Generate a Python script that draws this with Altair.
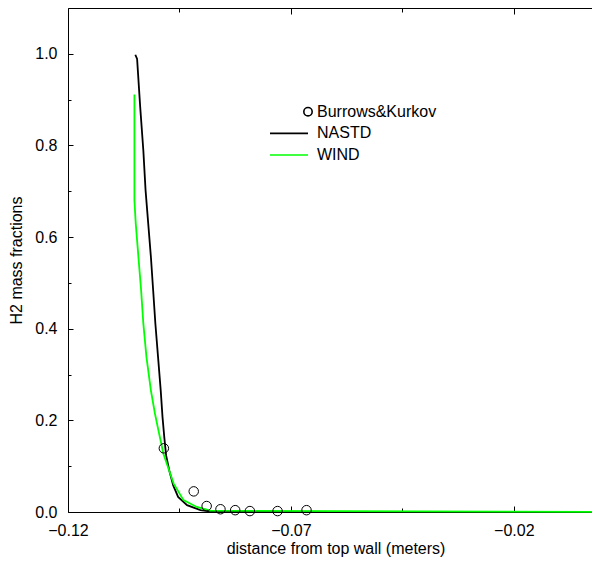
import altair as alt
import pandas as pd

# ---- data ----
nastd_x = [-0.1049, -0.1045, -0.1038, -0.1031, -0.1026, -0.1020, -0.1014, -0.1009,
           -0.1004, -0.0998, -0.0992, -0.0988, -0.0984, -0.0980, -0.0973, -0.0964,
           -0.0953, -0.0933, -0.0903, -0.0870, 0.0]
nastd_y = [0.998, 0.989, 0.883, 0.789, 0.702, 0.629, 0.556, 0.484,
           0.411, 0.338, 0.265, 0.207, 0.163, 0.124, 0.091, 0.058,
           0.033, 0.015, 0.004, 0.0, 0.0]

wind_x = [-0.1051, -0.1051, -0.1048, -0.1042, -0.1036, -0.1031, -0.1024, -0.1014,
          -0.1005, -0.0998, -0.0986, -0.0963, -0.0941, -0.0911, -0.0881, 0.0]
wind_y = [0.911, 0.680, 0.629, 0.556, 0.484, 0.411, 0.338, 0.265,
          0.215, 0.182, 0.127, 0.062, 0.026, 0.011, 0.003, 0.0]

bk_x = [-0.0985, -0.0918, -0.0889, -0.0858, -0.0825, -0.0792, -0.0730, -0.0665]
bk_y = [0.139, 0.045, 0.013, 0.006, 0.004, 0.002, 0.002, 0.004]

series_names = ["Burrows&Kurkov", "NASTD", "WIND"]
series_colors = ["black", "black", "#00ff00"]

x_domain = [-0.12, 0.0]
y_domain = [0.0, 1.1]
x_major = [-0.12, -0.07, -0.02]
x_minor = [-0.095, -0.045]
y_major = [0.0, 0.2, 0.4, 0.6, 0.8, 1.0]
y_minor = [0.1, 0.3, 0.5, 0.7, 0.9]

x_title = "distance from top wall (meters)"
y_title = "H2 mass fractions"


def frame(xs, ys, name):
    return pd.DataFrame({"x": xs, "y": ys, "series": name, "i": list(range(len(xs)))})


nastd = frame(nastd_x, nastd_y, "NASTD")
wind = frame(wind_x, wind_y, "WIND")
bk = frame(bk_x, bk_y, "Burrows&Kurkov")

FONT = "Liberation Sans"
xs = alt.Scale(domain=x_domain, nice=False, zero=False)
ys = alt.Scale(domain=y_domain, nice=False, zero=False)
cs = alt.Scale(domain=series_names, range=series_colors)

# legend symbols: small circle at the right end, or a horizontal stroke
circle_path = "M0.78,0A0.22,0.22 0 1,1 1.22,0A0.22,0.22 0 1,1 0.78,0Z"
line_path = "M-1,0L1,0"
ss = alt.Scale(domain=series_names, range=[circle_path, line_path, line_path])

common = dict(grid=False, domainColor="black", tickColor="black", tickWidth=1,
              domainWidth=1, labelFont=FONT, titleFont=FONT)


def tick_axis(orient, values, size, domain=False):
    return alt.Axis(orient=orient, values=values, tickSize=alt.ExprRef(expr=str(-size)),
                    labels=False, title=None, domain=domain, **common)


x_main_axis = alt.Axis(orient="bottom", values=x_major, tickSize=alt.ExprRef(expr="-6"),
                       format=".2f", labelFontSize=16, labelColor="black", labelFlush=False,
                       labelOverlap=False, labelPadding=16, title=x_title, titleFontSize=16,
                       titleFontWeight="normal", titleColor="black", titlePadding=2, **common)
y_main_axis = alt.Axis(orient="left", values=y_major, tickSize=alt.ExprRef(expr="-5"),
                       format=".1f", labelFontSize=16, labelColor="black", labelPadding=16,
                       title=y_title, titleFontSize=16, titleFontWeight="normal",
                       titleColor="black", titlePadding=10, **common)

legend = alt.Legend(
    title=None, orient="none", legendX=201, legendY=93.7, direction="vertical",
    labelFontSize=16, labelFont=FONT, labelColor="black", labelOffset=8,
    symbolSize=1444, symbolStrokeWidth=1.6, symbolOpacity=1, clipHeight=20,
    rowPadding=1.65, padding=0,
)

nastd_layer = alt.Chart(nastd).mark_line(strokeWidth=1.8, color=series_colors[1]).encode(
    x=alt.X("x:Q", scale=xs, axis=x_main_axis),
    y=alt.Y("y:Q", scale=ys, axis=y_main_axis),
    order="i:Q",
)
wind_layer = alt.Chart(wind).mark_line(strokeWidth=1.8, color=series_colors[2]).encode(
    x=alt.X("x:Q", scale=xs, axis=None),
    y=alt.Y("y:Q", scale=ys, axis=None),
    order="i:Q",
)
bk_layer = alt.Chart(bk).mark_point(shape="circle", size=90, filled=False, color=series_colors[0],
                                    strokeWidth=1, opacity=1).encode(
    x=alt.X("x:Q", scale=xs, axis=tick_axis("bottom", x_minor, 4)),
    y=alt.Y("y:Q", scale=ys, axis=tick_axis("left", y_minor, 3)),
)
top_major = alt.Chart(bk).mark_point(opacity=0, size=0).encode(
    x=alt.X("x:Q", scale=xs, axis=tick_axis("top", x_major, 6, domain=True)),
    y=alt.Y("y:Q", scale=ys, axis=None),
)
top_minor = alt.Chart(bk).mark_point(opacity=0, size=0).encode(
    x=alt.X("x:Q", scale=xs, axis=tick_axis("top", x_minor, 4)),
    y=alt.Y("y:Q", scale=ys, axis=None),
)
legend_layer = alt.Chart(bk).mark_point(opacity=0, filled=False).encode(
    x=alt.X("x:Q", scale=xs, axis=None),
    y=alt.Y("y:Q", scale=ys, axis=None),
    color=alt.Color("series:N", scale=cs, legend=legend),
    shape=alt.Shape("series:N", scale=ss, legend=legend),
)

chart = alt.layer(nastd_layer, wind_layer, bk_layer, top_major, top_minor, legend_layer).resolve_axis(
    x="independent", y="independent"
).properties(
    width=535, height=504,
    padding={"left": 60, "top": 0, "right": -11, "bottom": 46},
    autosize="none", background="white",
).configure(font=FONT).configure_view(stroke=None)

chart.save("out.html", embed_options={"renderer": "svg", "actions": False})
